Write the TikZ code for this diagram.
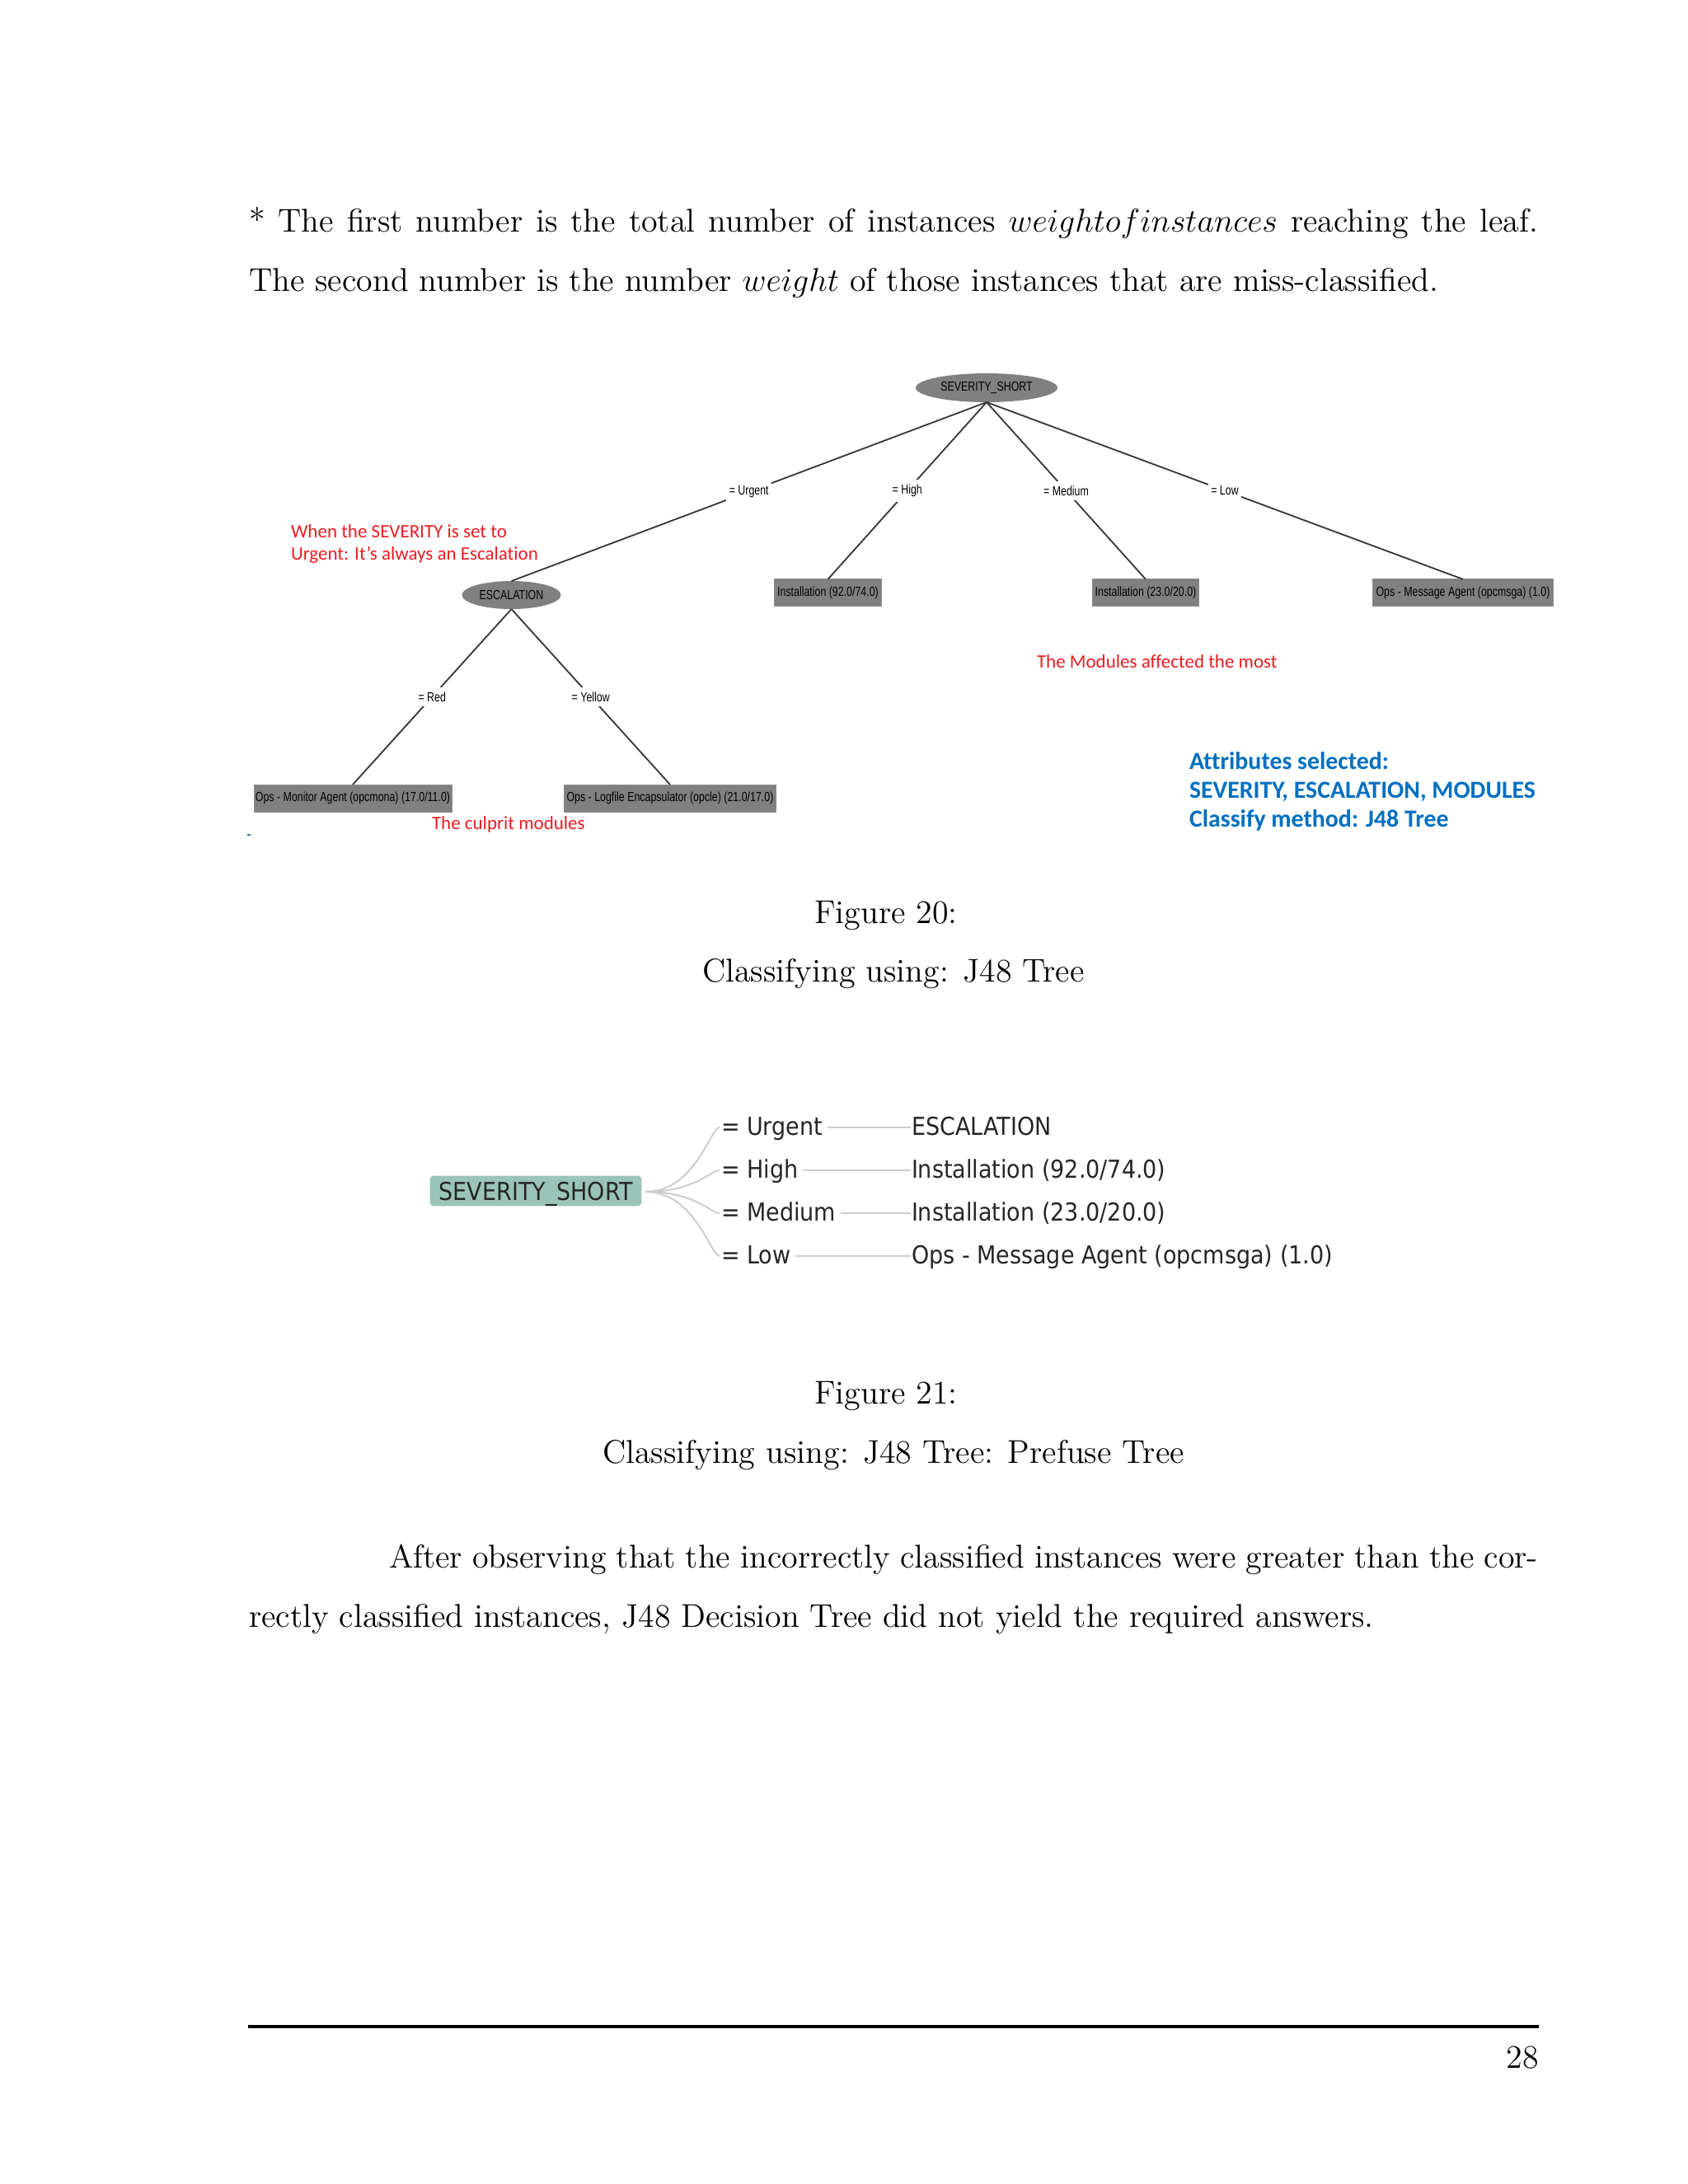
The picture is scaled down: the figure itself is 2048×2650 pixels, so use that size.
\documentclass[tikz,border=0pt]{standalone}
\usepackage{fontspec}
\usetikzlibrary{shapes.geometric}
\newfontfamily\wekafont[FakeStretch=0.775]{Liberation Sans}
\newfontfamily\calfont[Ligatures=NoCommon]{Carlito}
\newfontfamily\pffont[FakeStretch=0.9]{DejaVu Sans}
\definecolor{annred}{RGB}{235,28,36}
\definecolor{annblue}{RGB}{0,112,192}
\definecolor{wekagray}{RGB}{128,128,128}
\definecolor{pfgreen}{RGB}{155,196,185}
\definecolor{pfgray}{RGB}{205,205,205}
\begin{document}
\begin{tikzpicture}[x=0.3pt,y=-0.3pt,
  every node/.style={inner sep=0pt, outer sep=0pt},
  bodytext/.style={anchor=base west, font=\fontsize{12}{14.5}\selectfont},
  captext/.style={anchor=base, font=\fontsize{12}{14.5}\selectfont},
  wfont/.style={font=\wekafont\fontsize{4.8}{5.6}\selectfont, text=black},
  wnode/.style={ellipse, fill=wekagray, wfont, minimum height=10.4pt},
  wleaf/.style={rectangle, fill=wekagray, draw=black!45, line width=0.3pt, wfont, minimum height=9.7pt},
  wlbl/.style={fill=white, inner xsep=1pt, inner ysep=1.8pt, wfont},
  wedge/.style={draw=black!78, line width=0.55pt},
  redann/.style={anchor=base west, font=\calfont\fontsize{6.9}{8.4}\selectfont, text=annred},
  blueann/.style={anchor=base west, font=\calfont\bfseries\fontsize{8.95}{10.7}\selectfont, text=annblue},
  pffnt/.style={font=\pffont\fontsize{9}{11}\selectfont, text=black!85},
  pfroot/.style={rectangle, rounded corners=1.3pt, fill=pfgreen, pffnt, minimum width=77pt, minimum height=11pt, text height=7.3pt, text depth=0.3pt},
  pflbl/.style={anchor=base west, pffnt},
  pfcurve/.style={draw=pfgray, line width=0.6pt},
  pfline/.style={draw=pfgray, line width=0.6pt}
]
\useasboundingbox (0,0) rectangle (2048,2650);
\fill[white] (0,0) rectangle (2048,2650);

% ---------- top text ----------
\node[bodytext] (t1) at (302,281) {\makebox[469.2pt][s]{* The first number is the total number of instances $weightofinstances$ reaching the leaf.}};
\node[bodytext] (t2) at (302,353) {The second number is the number $weight$ of those instances that are miss-classified.};

% ---------- Figure 20: Weka tree ----------
\node[wnode, minimum width=51.6pt, minimum height=10.5pt] (root) at (1197,470.5) {SEVERITY\_SHORT};
\node[wnode, minimum width=36pt, minimum height=10.2pt] (esc) at (620.5,722) {ESCALATION};
\node[wleaf, minimum width=38.9pt] (inst92) at (1004.5,719) {Installation (92.0/74.0)};
\node[wleaf, minimum width=38.9pt] (inst23) at (1390,719) {Installation (23.0/20.0)};
\node[wleaf, minimum width=65.7pt] (opsmsg) at (1775,719) {Ops - Message Agent (opcmsga) (1.0)};
\node[wleaf, minimum width=72pt, minimum height=9.9pt] (monitor) at (428,968.5) {Ops - Monitor Agent (opcmona) (17.0/11.0)};
\node[wleaf, minimum width=77.2pt, minimum height=9.9pt] (logfile) at (813,968.5) {Ops - Logfile Encapsulator (opcle) (21.0/17.0)};

\draw[wedge] (root.south) -- node[wlbl] (lurgent) {= Urgent} (esc.north);
\draw[wedge] (root.south) -- node[wlbl] (lhigh) {= High} (inst92.north);
\draw[wedge] (root.south) -- node[wlbl] (lmedium) {= Medium} (inst23.north);
\draw[wedge] (root.south) -- node[wlbl] (llow) {= Low} (opsmsg.north);
\draw[wedge] (esc.south) -- node[wlbl] (lred) {= Red} (monitor.north);
\draw[wedge] (esc.south) -- node[wlbl] (lyellow) {= Yellow} (logfile.north);

\node[redann] (ann1) at (353,652.7) {When the SEVERITY is set to};
\node[redann] (ann2) at (353,679) {Urgent: It’s always an Escalation};
\node[redann] (ann3) at (1258,810.7) {The Modules affected the most};
\node[redann] (ann4) at (524,1006.7) {The culprit modules};

\node[blueann] (attr1) at (1443,933) {Attributes selected:};
\node[blueann] (attr2) at (1443,968) {SEVERITY, ESCALATION, MODULES};
\node[blueann] (attr3) at (1443,1003) {Classify method: J48 Tree};

\fill[annblue!60!gray] (300,1011.5) rectangle (304,1013.5);

\node[captext] (cap20a) at (1075,1120) {Figure 20:};
\node[captext] (cap20b) at (1084,1191) {Classifying using: J48 Tree};

% ---------- Figure 21: Prefuse tree ----------
\node[pfroot] (proot) at (650,1445) {SEVERITY\_SHORT};

\node[pflbl] (pu) at (875,1377) {= Urgent};
\node[pflbl] (ph) at (875,1429) {= High};
\node[pflbl] (pm) at (875,1481) {= Medium};
\node[pflbl] (pl) at (875,1533) {= Low};

\node[pflbl] (ru) at (1106,1377) {ESCALATION};
\node[pflbl] (rh) at (1106,1429) {Installation (92.0/74.0)};
\node[pflbl] (rm) at (1106,1481) {Installation (23.0/20.0)};
\node[pflbl] (rl) at (1106,1533) {Ops - Message Agent (opcmsga) (1.0)};

\foreach \a in {pu,ph,pm,pl}{
  \draw[pfcurve] ([shift={(5,1)}]proot.east) .. controls +(60,0) and +(-11,0) .. ([shift={(-2,-9)}]\a.base west);
}
\draw[pfline] ([shift={(6,-9)}]pu.base east) -- ([shift={(-1,-9)}]ru.base west);
\draw[pfline] ([shift={(6,-9)}]ph.base east) -- ([shift={(-1,-9)}]rh.base west);
\draw[pfline] ([shift={(6,-9)}]pm.base east) -- ([shift={(-1,-9)}]rm.base west);
\draw[pfline] ([shift={(6,-9)}]pl.base east) -- ([shift={(-1,-9)}]rl.base west);

\node[captext] (cap21a) at (1075,1703) {Figure 21:};
\node[captext] (cap21b) at (1084,1775) {Classifying using: J48 Tree: Prefuse Tree};

% ---------- paragraph ----------
\node[bodytext] (p1) at (472,1902.5) {\makebox[418.2pt][s]{After observing that the incorrectly classified instances were greater than the cor-}};
\node[bodytext] (p2) at (302,1974) {rectly classified instances, J48 Decision Tree did not yield the required answers.};

% ---------- footer ----------
\draw[line width=1.1pt] (301,2459) -- (1867,2459);
\node[anchor=base east, font=\fontsize{12}{14.5}\selectfont] (pnum) at (1867,2509) {28};
\end{tikzpicture}
\end{document}
